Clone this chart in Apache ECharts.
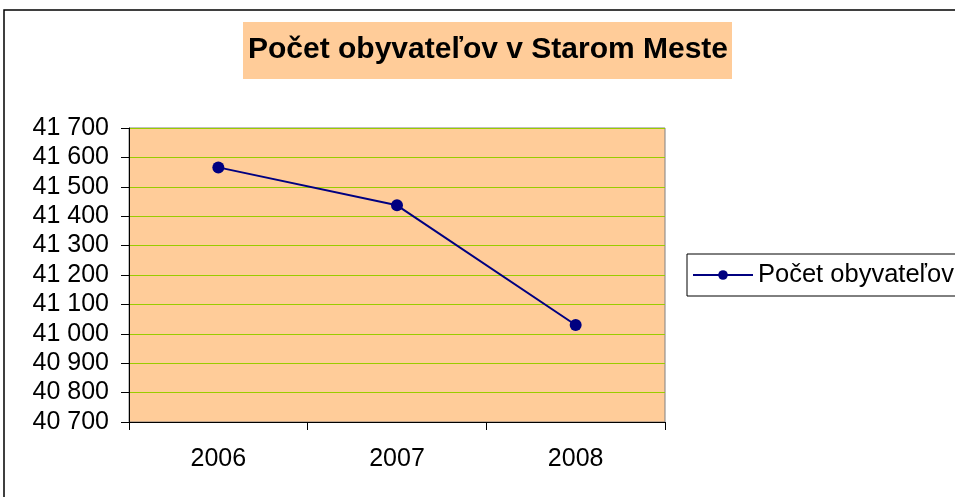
<!DOCTYPE html>
<html>
<head>
<meta charset="utf-8">
<script src="https://cdn.jsdelivr.net/npm/echarts@6/dist/echarts.min.js"></script>
<style>
  html, body { margin: 0; padding: 0; background: #fff; }
  #chart { width: 955px; height: 497px; }
</style>
</head>
<body>
<div id="chart"></div>
<script>
// data
const years = ['2006', '2007', '2008']
const population = [41566, 41437, 41030]
const seriesName = 'Počet obyvateľov'
const titleText = 'Počet obyvateľov v Starom Meste'

const font = "'Liberation Sans', Arial, sans-serif"
const fmt = v => String(v).replace(/\B(?=(\d{3})+(?!\d))/g, ' ')

const chart = echarts.init(document.getElementById('chart'), null, { renderer: 'canvas' })
chart.setOption({
  animation: false,
  backgroundColor: '#fff',
  graphic: [
    // outer chart frame
    { type: 'rect', shape: { x: 4, y: 10, width: 970, height: 510 },
      style: { fill: 'none', stroke: '#000', lineWidth: 1.5 }, z: -1 },
    // title box
    { type: 'rect', shape: { x: 243, y: 22, width: 489, height: 57 },
      style: { fill: '#FFCC99' }, z: 0 },
    { type: 'text', x: 488, y: 50,
      style: { text: titleText, font: 'bold 30px ' + font, fill: '#000',
               align: 'center', verticalAlign: 'middle' }, z: 1 }
  ],
  legend: {
    left: 687, top: 254,
    padding: [8, 40, 8, 5],
    borderColor: '#000', borderWidth: 1,
    itemWidth: 60, itemHeight: 12,
    itemGap: 8,
    textStyle: { fontFamily: font, fontSize: 25.5, color: '#000' },
    data: [seriesName]
  },
  grid: {
    left: 129, right: 290, top: 128, bottom: 75,
    show: true, backgroundColor: '#FFCC99', borderColor: '#808080', borderWidth: 1
  },
  xAxis: {
    type: 'category',
    data: years,
    boundaryGap: true,
    axisLine: { lineStyle: { color: '#000', width: 1 } },
    axisTick: { show: true, length: 8, lineStyle: { color: '#000' } },
    axisLabel: { margin: 25, fontFamily: font, fontSize: 25, color: '#000' },
    splitLine: { show: false }
  },
  yAxis: {
    type: 'value',
    min: 40700, max: 41700, interval: 100,
    axisLine: { show: true, lineStyle: { color: '#000', width: 1 } },
    axisTick: { show: true, length: 8, lineStyle: { color: '#000' } },
    axisLabel: { margin: 20, fontFamily: font, fontSize: 25, color: '#000', formatter: fmt },
    splitLine: { show: true, lineStyle: { color: '#99CC00', width: 1.2 } }
  },
  series: [{
    name: seriesName,
    type: 'line',
    data: population,
    symbol: 'circle',
    symbolSize: 12,
    lineStyle: { color: '#000080', width: 2 },
    itemStyle: { color: '#000080' }
  }]
})
</script>
</body>
</html>
